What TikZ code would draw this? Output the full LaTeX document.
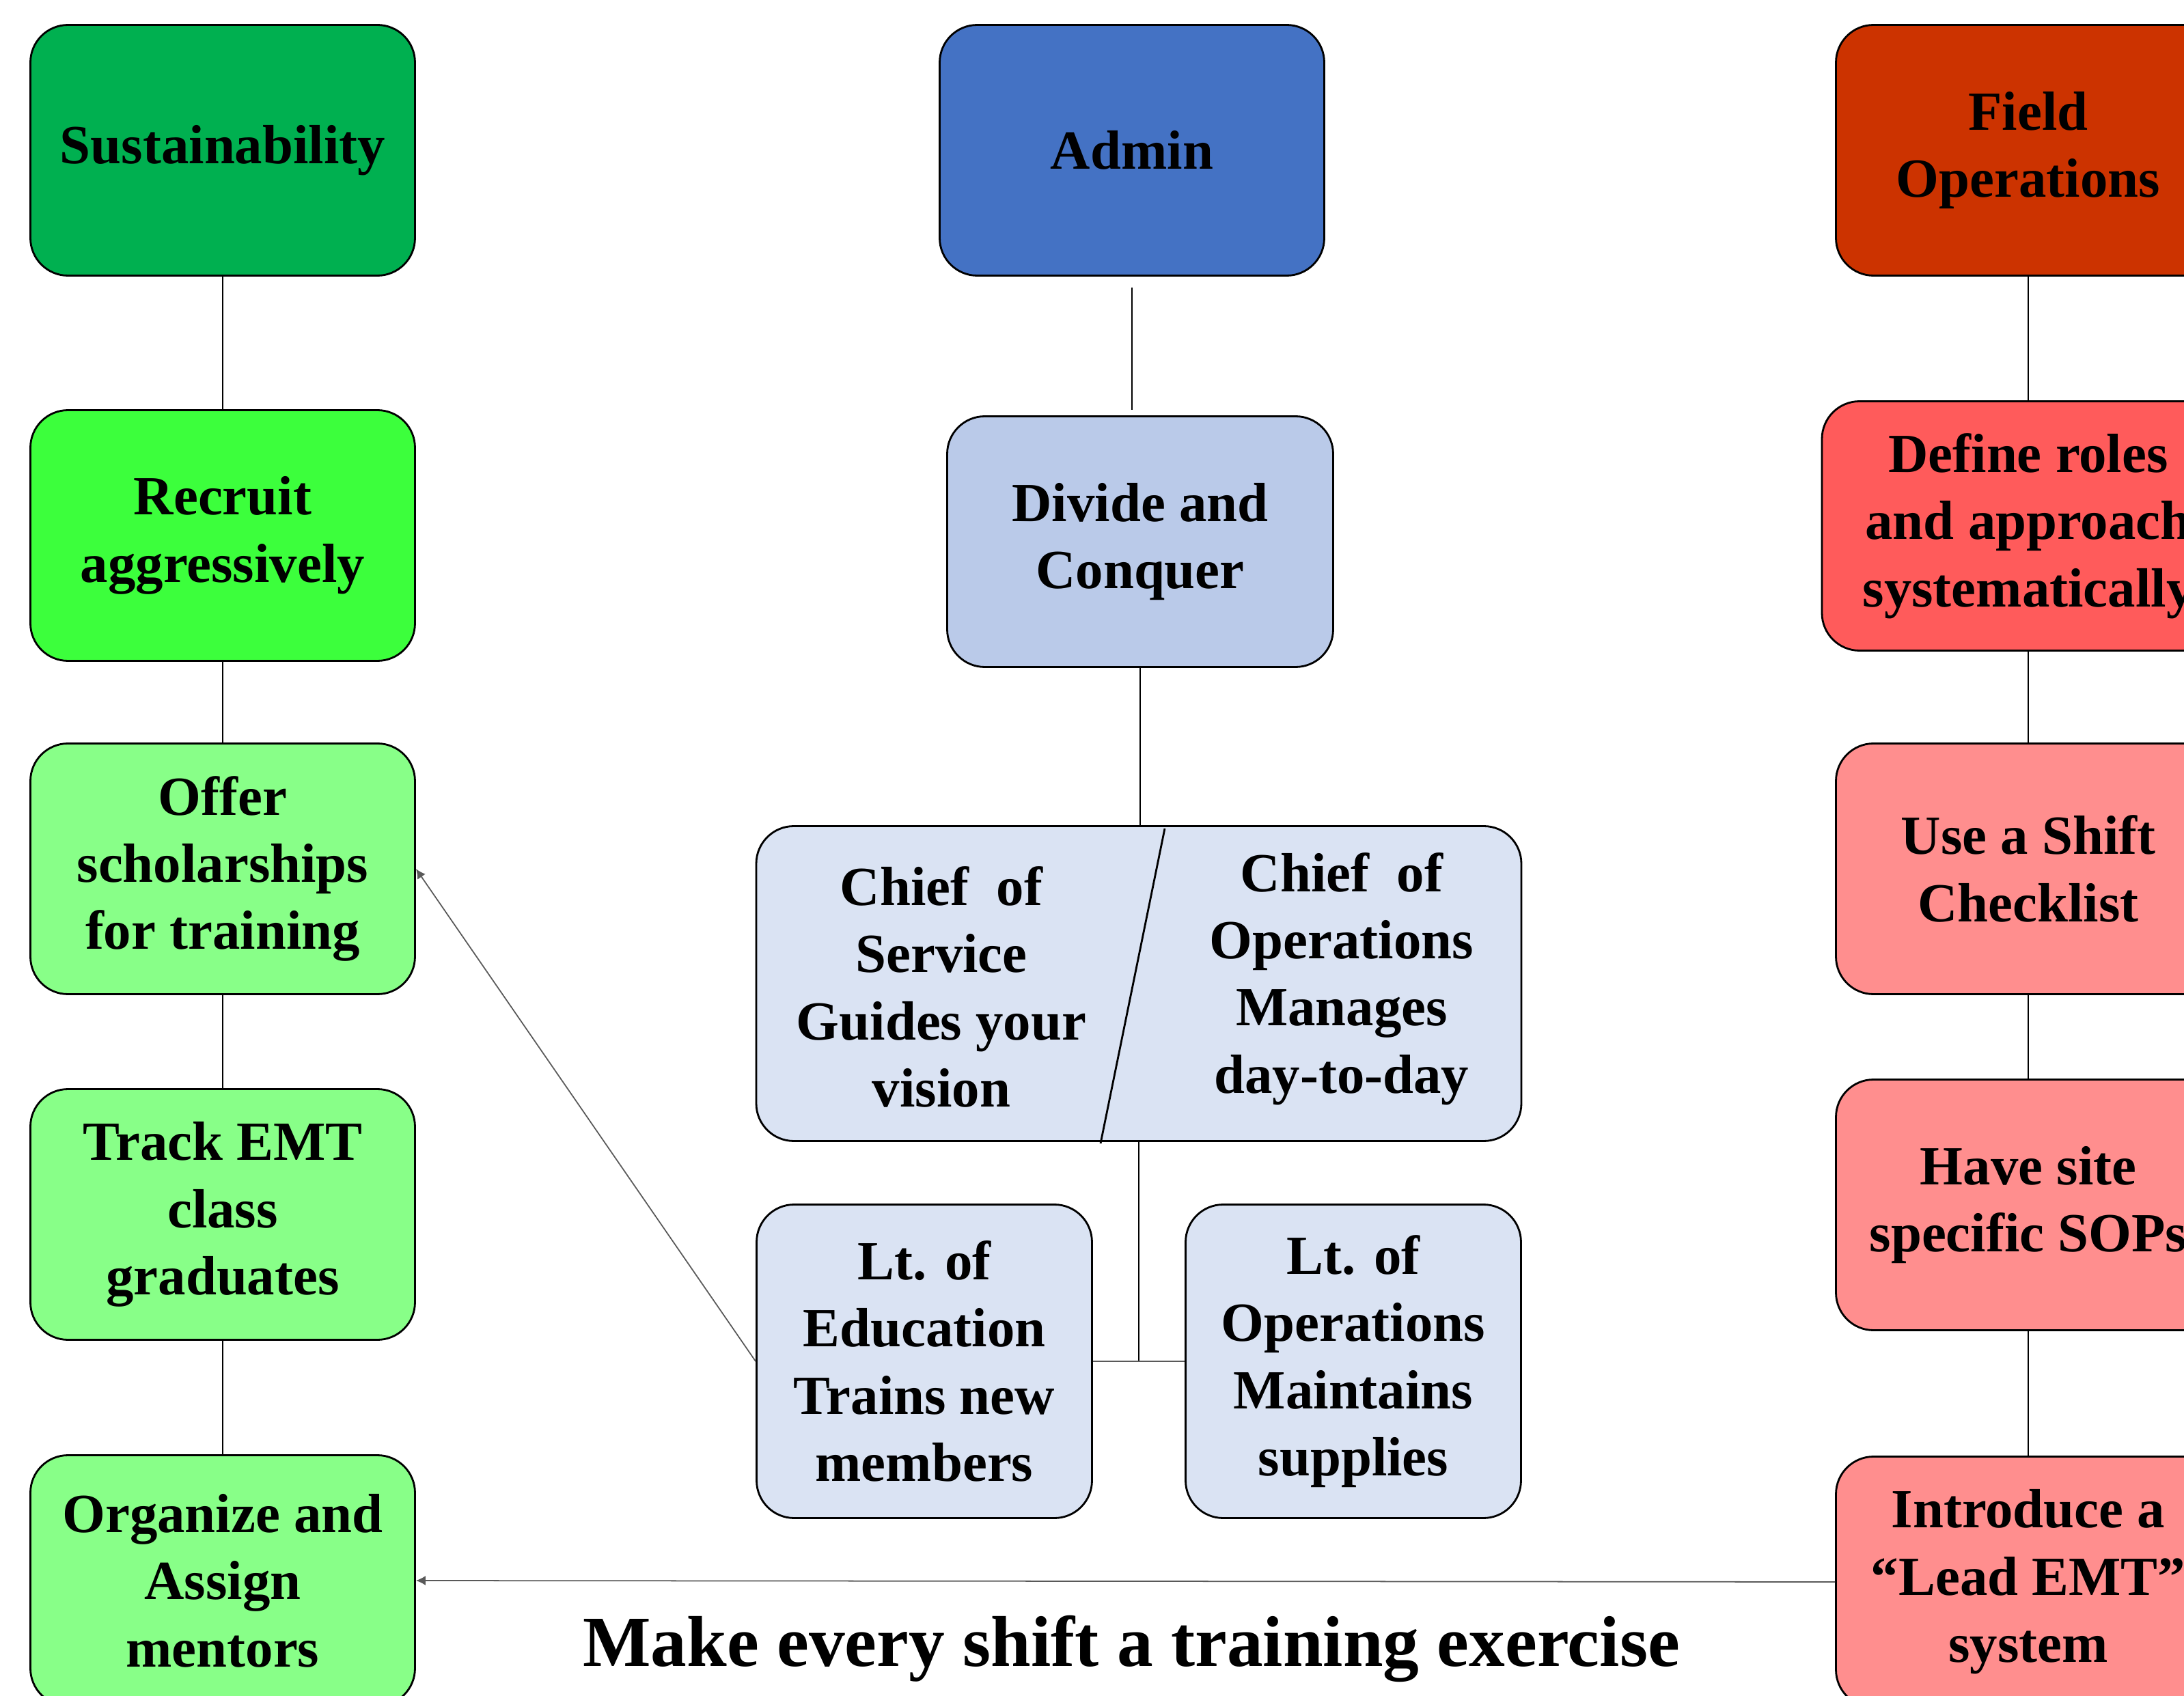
\documentclass[tikz,border=0pt]{standalone}
\usepackage{fontspec}
\setmainfont{Liberation Serif}
\usepackage{xcolor}
\usetikzlibrary{arrows.meta}
\definecolor{sustgreen}{RGB}{0,176,80}
\definecolor{recruitgreen}{RGB}{60,255,60}
\definecolor{palegreen}{RGB}{136,255,136}
\definecolor{adminblue}{RGB}{68,114,196}
\definecolor{midblue}{RGB}{186,202,233}
\definecolor{paleblue}{RGB}{218,227,243}
\definecolor{fieldred}{RGB}{204,51,0}
\definecolor{midred}{RGB}{255,91,91}
\definecolor{palered}{RGB}{255,142,142}
\begin{document}
\begin{tikzpicture}
	\tikzstyle{box} = [draw=black, line width=0.8pt, rounded corners=0.55cm, align=center, minimum width=5.63cm, minimum height=3.67cm, inner sep=0pt, font=\fontsize{23}{28}\selectfont\bfseries]
	\tikzstyle{boxtext} = [align=center, inner sep=0pt, font=\fontsize{23}{28}\selectfont\bfseries]
	\tikzstyle{edge} = [draw=black, line width=0.8pt]
	\tikzstyle{thinedge} = [draw=gray!70!black, line width=0.5pt]
	\tikzstyle{link} = [draw=gray!70!black, line width=0.5pt, -{Latex[length=4pt,width=4pt]}]
	\useasboundingbox (0,0) rectangle (31.97,-24.83);
	\clip (0,0) rectangle (31.97,-24.83);
		% left column
		\node[box, fill=sustgreen]    (sust)     at (3.26,-2.20)  {Sustainability};
		\node[box, fill=recruitgreen] (recruit)  at (3.26,-7.84)  {Recruit\\aggressively};
		\node[box, fill=palegreen]    (offer)    at (3.26,-12.72) {Offer\\scholarships\\for training};
		\node[box, fill=palegreen]    (track)    at (3.26,-17.78) {Track EMT\\class\\graduates};
		\node[box, fill=palegreen]    (organize) at (3.26,-23.14) {Organize and\\Assign\\mentors};
		% middle column
		\node[box, fill=adminblue] (admin)  at (16.57,-2.20) {Admin};
		\node[box, fill=midblue, minimum width=5.65cm] (divide) at (16.69,-7.93) {Divide and\\Conquer};
		\node[box, fill=paleblue, minimum width=11.20cm, minimum height=4.61cm] (chief) at (16.67,-14.40) {};
		\node[boxtext] (service) at (13.78,-14.45) {Chief\ \ of\\Service\\Guides your\\vision};
		\node[boxtext] (chiefops) at (19.64,-14.33) {Chief\ \ of\\Operations\\Manages\\day-to-day};
		\coordinate (cuttop) at (17.05,-12.13);
		\coordinate (cutbot) at (16.11,-16.74);
		\node[box, fill=paleblue, minimum width=4.91cm, minimum height=4.59cm] (lted)  at (13.53,-19.93) {Lt. of\\Education\\Trains new\\members};
		\node[box, fill=paleblue, minimum width=4.91cm, minimum height=4.59cm] (ltops) at (19.81,-19.93) {Lt. of\\Operations\\Maintains\\supplies};
		% right column
		\node[box, fill=fieldred] (field)     at (29.69,-2.20)  {Field\\Operations};
		\node[box, fill=midred, minimum width=6.04cm, minimum height=3.65cm] (define) at (29.69,-7.70) {Define roles\\and approach\\systematically};
		\node[box, fill=palered]  (checklist) at (29.69,-12.72) {Use a Shift\\Checklist};
		\node[box, fill=palered]  (sops)      at (29.69,-17.64) {Have site\\specific SOPs};
		\node[box, fill=palered]  (lead)      at (29.69,-23.16) {Introduce a\\``Lead EMT''\\system};
		\node[font=\fontsize{30}{36}\selectfont\bfseries, anchor=base] (motto) at (16.56,-24.39) {Make every shift a training exercise};
	\draw[edge] (sust) -- (recruit) -- (offer) -- (track) -- (organize);
	\draw[edge] (field) -- (define) -- (checklist) -- (sops) -- (lead);
	\draw[edge] ([yshift=-0.16cm]admin.south) -- ([yshift=0.08cm]admin.south |- divide.north);
	\draw[edge] (divide.south) -- (divide.south |- chief.north);
	\draw[edge] (cuttop) -- (cutbot);
	\draw[edge] (chief.south) -- (chief.south |- lted.east);
	\draw[thinedge] (lted.east) -- (ltops.west);
	\draw[link] (lted.west) -- (offer.east);
	\draw[link] (lead.west) -- (organize.east);
	\end{tikzpicture}
\end{document}
